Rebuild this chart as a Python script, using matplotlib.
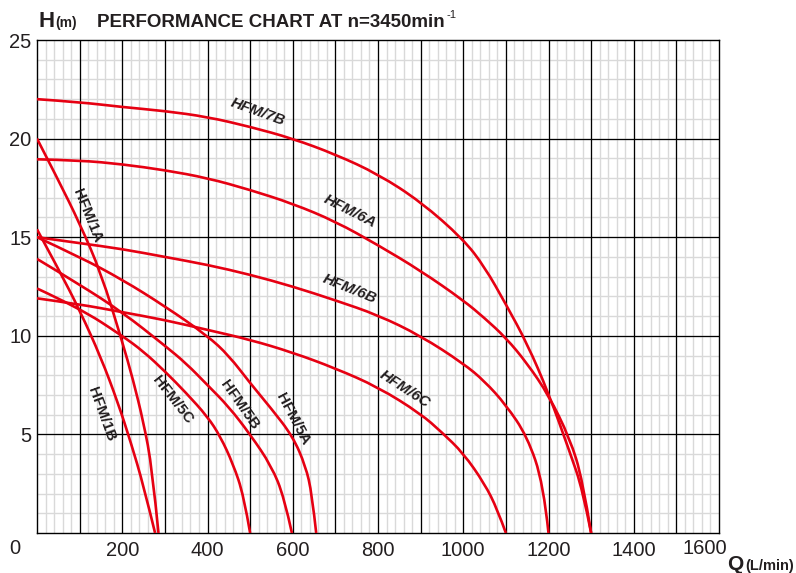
import numpy as np
import matplotlib
matplotlib.use("Agg")
import matplotlib.pyplot as plt
from matplotlib.path import Path
from matplotlib.patches import PathPatch

# pump curves: flow Q (L/min) vs head H (m)
q_7b = [0, 100, 200, 300, 400, 500, 600, 700, 800, 900, 1000, 1050, 1100,
        1150, 1200, 1250, 1280, 1300]
h_7b = [22.0, 21.85, 21.6, 21.4, 21.1, 20.6, 20.0, 19.2, 18.2, 16.8, 14.9,
        13.5, 11.6, 9.6, 7.1, 4.1, 2.2, 0]

q_6a = [0, 100, 200, 300, 400, 500, 600, 700, 800, 900, 1000, 1050, 1100,
        1150, 1200, 1250, 1280, 1300]
h_6a = [18.95, 18.9, 18.7, 18.4, 18.0, 17.4, 16.7, 15.8, 14.6, 13.3, 11.8,
        10.9, 9.9, 8.6, 7.0, 4.8, 2.7, 0]

q_6b = [0, 100, 200, 300, 400, 500, 600, 700, 800, 900, 1000, 1050, 1100,
        1150, 1188, 1200]
h_6b = [15.0, 14.7, 14.4, 14.0, 13.6, 13.1, 12.5, 11.8, 11.05, 10.0, 8.6,
        7.7, 6.5, 4.9, 2.5, 0]

q_6c = [0, 100, 200, 300, 400, 500, 600, 700, 800, 900, 950, 1000, 1050,
        1080, 1100]
h_6c = [11.9, 11.6, 11.2, 10.8, 10.3, 9.8, 9.15, 8.35, 7.4, 6.05, 5.1, 4.05,
        2.5, 1.2, 0]

q_1a = [0, 50, 100, 150, 200, 225, 250, 270, 285]
h_1a = [20.0, 17.9, 15.7, 13.2, 9.7, 7.8, 5.6, 3.3, 0]

q_1b = [0, 50, 100, 150, 190, 220, 250, 277]
h_1b = [15.4, 13.4, 11.3, 8.9, 6.6, 4.6, 2.4, 0]

q_5a = [0, 100, 200, 300, 400, 450, 500, 550, 600, 630, 645, 655]
h_5a = [15.0, 14.0, 12.85, 11.5, 10.0, 9.0, 7.6, 6.3, 4.9, 3.4, 2.0, 0]

q_5b = [0, 100, 200, 300, 350, 400, 450, 500, 550, 580, 598]
h_5b = [13.9, 12.6, 11.2, 9.5, 8.6, 7.5, 6.4, 5.0, 3.4, 1.8, 0]

q_5c = [0, 100, 200, 250, 300, 350, 400, 430, 460, 485, 500]
h_5c = [12.4, 11.4, 10.0, 9.2, 8.2, 7.1, 5.9, 4.9, 3.5, 1.9, 0]

curves = [
    ("HFM/7B", q_7b, h_7b, 518, 21.35, -20, "italic"),
    ("HFM/6A", q_6a, h_6a, 734, 16.3, -27, "italic"),
    ("HFM/6B", q_6b, h_6b, 734, 12.4, -22, "italic"),
    ("HFM/6C", q_6c, h_6c, 863, 7.3, -33, "italic"),
    ("HFM/1A", q_1a, h_1a, 117, 16.1, -68, "normal"),
    ("HFM/1B", q_1b, h_1b, 152, 6.0, -70, "normal"),
    ("HFM/5C", q_5c, h_5c, 317, 6.75, -52, "normal"),
    ("HFM/5B", q_5b, h_5b, 476, 6.5, -55, "normal"),
    ("HFM/5A", q_5a, h_5a, 600, 5.8, -62, "normal"),
]

x_labels = [200, 400, 600, 800, 1000, 1200, 1400]
y_labels = [5, 10, 15, 20, 25]

red = "#e60012"
ink = "#231f20"


def smooth_path(q, h):
    # quadratic b-spline through the read points, drawn by matplotlib
    pts = list(zip(q, h))
    verts = [pts[0]]
    codes = [Path.MOVETO]
    for i in range(1, len(pts) - 1):
        if i < len(pts) - 2:
            end = ((pts[i][0] + pts[i + 1][0]) / 2,
                   (pts[i][1] + pts[i + 1][1]) / 2)
        else:
            end = pts[-1]
        verts += [pts[i], end]
        codes += [Path.CURVE3, Path.CURVE3]
    return Path(verts, codes)


plt.rcParams["font.family"] = ["Liberation Sans", "DejaVu Sans"]

fig = plt.figure(figsize=(7.96, 5.73), dpi=100)
ax = fig.add_axes([37 / 796, 40 / 573, 682 / 796, 493 / 573])
ax.set_xlim(0, 1600)
ax.set_ylim(0, 25)

# grid: light minor every 20 L/min / 1 m, black major every 100 L/min / 5 m
for q in np.arange(20, 1600, 20):
    ax.axvline(q, color="#d9d9d9", lw=1.0, zorder=0)
for h in np.arange(1, 25, 1):
    ax.axhline(h, color="#d9d9d9", lw=1.0, zorder=0)
for q in np.arange(100, 1600, 100):
    ax.axvline(q, color="black", lw=0.9, zorder=1)
for h in np.arange(5, 25, 5):
    ax.axhline(h, color="black", lw=0.9, zorder=1)
for s in ax.spines.values():
    s.set_color("black")
    s.set_linewidth(1.0)

for name, q, h, lx, ly, rot, sty in curves:
    ax.add_patch(PathPatch(smooth_path(q, h), fill=False, edgecolor=red,
                           lw=1.9, capstyle="butt", zorder=3))
    ax.text(lx, ly, name, rotation=rot, rotation_mode="anchor",
            ha="center", va="center", fontsize=11, fontweight="bold",
            style=sty, color=ink, zorder=4)

ax.set_xticks(x_labels)
ax.set_xticklabels([str(v) for v in x_labels], fontsize=14.5, color=ink)
ax.set_yticks(y_labels)
ax.set_yticklabels([str(v) for v in y_labels], fontsize=14.5, color=ink)
ax.tick_params(length=0, pad=4)
ax.tick_params(axis="x", pad=6)

# corner zero and last flow label
fig.text(15 / 796, 1 - 549 / 573, "0", fontsize=14.5, color=ink,
         ha="center", va="center")
fig.text(705 / 796, 1 - 549 / 573, "1600", fontsize=14.5, color=ink,
         ha="center", va="center")

# title and axis names
fig.text(39 / 796, 1 - 27 / 573, "H", fontsize=16, fontweight="bold",
         color=ink, va="baseline")
fig.text(55 / 796, 1 - 27 / 573, "(m)", fontsize=10, fontweight="bold",
         color=ink, va="baseline")
fig.text(97 / 796, 1 - 27 / 573, "PERFORMANCE CHART AT n=3450min",
         fontsize=13.5, fontweight="bold", color=ink, va="baseline")
fig.text(446 / 796, 1 - 18 / 573, "-1", fontsize=8, color=ink,
         va="baseline")
fig.text(727 / 796, 1 - 570 / 573, "Q", fontsize=15, fontweight="bold",
         color=ink, va="baseline")
fig.text(745 / 796, 1 - 570 / 573, "(L/min)", fontsize=10.5,
         fontweight="bold", color=ink, va="baseline")

fig.savefig("out.png", dpi=100)
